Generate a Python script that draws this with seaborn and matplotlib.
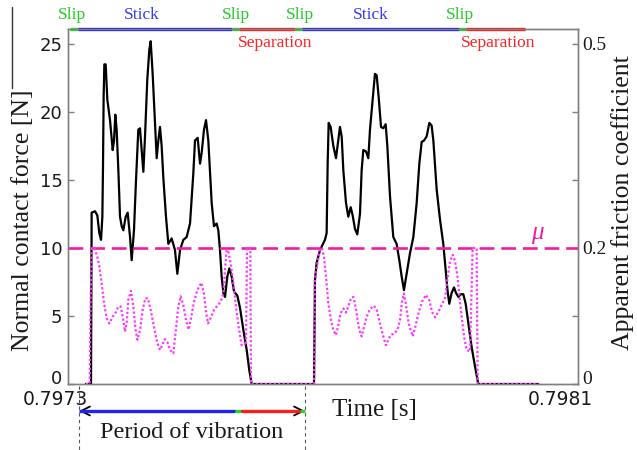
import matplotlib
matplotlib.use("Agg")
import matplotlib.pyplot as plt
from matplotlib.lines import Line2D
import pandas as pd
import seaborn as sns

# Time is stored in microseconds after t = 0.7973 s
force_t_us = [28.2, 36.1,
              37.1, 42.4, 46.0, 49.1, 51.8, 53.9, 54.9, 55.9, 57.0, 59.1,
              61.7, 65.9, 70.1, 72.2, 74.2, 76.3, 79.0, 81.6, 84.2, 86.8,
              90.5, 93.6, 97.3, 99.9, 103.5, 106.7, 110.3, 112.9, 115.6, 118.2,
              120.8, 124.4, 127.6, 129.7, 132.8, 136.5, 139.1, 141.7, 144.3, 146.9,
              149.5, 153.7, 157.4, 162.6, 167.8, 171.5, 175.7, 180.9, 186.1, 191.4,
              196.6, 199.2, 203.4, 207.1, 209.7, 213.3, 216.5, 220.1, 222.7, 225.4,
              229.0, 233.2, 235.8, 238.4, 241.0, 243.7, 246.3, 249.9, 253.1, 256.7,
              260.4, 265.6, 269.8, 275.0, 280.3, 284.4, 288.1,
              385.9, 387.4, 390.0, 395.3, 398.9, 403.1, 405.7, 407.3, 408.9, 412.0,
              416.2, 420.4, 424.0, 426.6, 429.3, 431.9, 436.1, 439.7, 443.4, 446.5,
              450.2, 453.8, 458.0, 460.6, 463.2, 467.4, 471.1, 473.7, 477.9, 481.5,
              484.2, 487.3, 491.0, 494.6, 498.3, 500.9, 505.1, 510.3, 515.5, 519.7,
              523.4, 527.0, 531.2, 536.4, 541.7, 546.9, 551.1, 554.8, 558.4, 562.6,
              566.8, 570.4, 573.1, 578.3, 583.5, 588.7, 592.9, 595.5, 598.1, 601.8,
              605.5, 608.6, 612.3, 615.9, 620.1, 623.8, 627.9, 633.2, 638.4, 643.6,
              737.5]
force_N = [0, 0,
           12.6, 12.7, 12.4, 11.1, 10.6, 12.3, 16.0, 21.1, 23.5, 23.5,
           20.9, 19.4, 17.2, 17.9, 19.8, 18.7, 15.7, 12.3, 11.6, 11.3,
           12.3, 12.6, 10.8, 9.1, 11.3, 15.0, 18.7, 18.8, 17.2, 15.6,
           18.2, 22.4, 24.6, 25.2, 22.8, 19.2, 16.6, 17.9, 18.9, 17.5,
           15.2, 12.3, 10.3, 10.7, 9.85, 8.1, 9.85, 10.6, 10.8, 11.8,
           15.5, 17.9, 18.1, 16.2, 17.0, 18.7, 19.4, 17.9, 15.7, 13.3,
           11.6, 11.8, 11.3, 9.85, 7.9, 6.7, 6.4, 7.9, 8.5, 7.9,
           6.8, 6.5, 5.6, 4.0, 2.5, 1.0, 0,
           0, 7.65, 8.9, 9.85, 10.2, 10.6, 11.1, 16.2, 19.2, 18.9,
           17.5, 16.6, 17.9, 18.9, 18.2, 15.7, 13.3, 12.3, 13.0, 12.4,
           11.4, 11.0, 12.5, 15.7, 17.2, 17.1, 16.6, 18.7, 20.9, 22.8,
           22.7, 21.1, 18.9, 18.8, 19.1, 17.5, 13.8, 10.8, 10.3, 9.1,
           7.9, 6.9, 8.1, 9.6, 10.8, 13.3, 16.2, 17.8, 17.9, 18.2,
           19.2, 19.0, 17.9, 14.3, 12.1, 10.3, 8.1, 6.8, 5.9, 6.7,
           7.1, 6.7, 6.4, 6.6, 6.6, 5.9, 4.5, 2.7, 1.3, 0,
           0]

mu_t_us = [28.2, 34.0, 35.6, 37.6, 41.3, 46.0, 49.1, 52.8, 56.5, 60.6,
           64.8, 70.1, 75.3, 79.0, 82.6, 85.8, 89.4, 92.0, 94.6, 98.8,
           102.5, 105.6, 108.8, 113.0, 117.1, 121.3, 125.5, 129.7, 134.9, 140.1,
           144.3, 148.0, 151.6, 155.8, 160.0, 165.2, 168.9, 173.1, 176.7, 180.9,
           185.1, 189.3, 193.5, 197.6, 202.9, 209.2, 213.3, 216.5, 219.6, 223.8,
           229.0, 234.2, 239.5, 243.7, 246.3, 248.9, 251.5, 255.2, 259.3, 263.5,
           267.7, 272.4, 276.1, 279.2, 280.8, 286.0, 287.1,
           385.9, 387.4, 391.1, 395.3, 398.4, 401.5, 404.7, 408.3, 412.5, 416.2,
           420.4, 424.0, 427.7, 431.9, 436.1, 439.7, 443.9, 447.6, 450.7, 453.8,
           457.0, 460.6, 464.3, 468.5, 473.7, 480.0, 484.2, 489.4, 494.6, 498.8,
           502.5, 506.1, 511.4, 516.6, 520.8, 523.9, 527.0, 530.2, 534.4, 540.6,
           544.8, 550.0, 555.3, 561.5, 566.8, 571.0, 575.7, 580.9, 586.1, 591.3,
           595.0, 599.2, 603.4, 607.0, 610.7, 613.8, 617.5, 621.2, 625.3, 630.6,
           634.7, 641.0, 642.6, 737.5]
mu_apparent = [0, 0, 0.128, 0.2, 0.2, 0.187, 0.173, 0.148, 0.119, 0.097,
               0.089, 0.099, 0.106, 0.114, 0.114, 0.099, 0.077, 0.089, 0.124, 0.137,
               0.114, 0.082, 0.065, 0.079, 0.109, 0.126, 0.126, 0.109, 0.084, 0.060,
               0.050, 0.057, 0.066, 0.062, 0.050, 0.045, 0.077, 0.114, 0.129, 0.116,
               0.094, 0.080, 0.099, 0.121, 0.138, 0.149, 0.133, 0.106, 0.089, 0.097,
               0.109, 0.115, 0.121, 0.133, 0.168, 0.197, 0.195, 0.177, 0.148, 0.114,
               0.084, 0.057, 0.060, 0.057, 0.2, 0.2, 0,
               0, 0.153, 0.177, 0.197, 0.2, 0.187, 0.158, 0.119, 0.094, 0.079,
               0.072, 0.087, 0.104, 0.111, 0.105, 0.114, 0.126, 0.128, 0.116, 0.097,
               0.079, 0.070, 0.084, 0.099, 0.110, 0.115, 0.109, 0.089, 0.070, 0.057,
               0.065, 0.072, 0.074, 0.079, 0.094, 0.121, 0.133, 0.116, 0.089, 0.070,
               0.084, 0.105, 0.121, 0.131, 0.123, 0.106, 0.098, 0.106, 0.116, 0.126,
               0.153, 0.180, 0.190, 0.181, 0.160, 0.131, 0.099, 0.070, 0.050, 0.048,
               0.2, 0.2, 0, 0]

mu_static = 0.2

time_ticks_us = [0, 800]
time_tick_labels = ["0.7973", "0.7981"]
force_ticks = [0, 5, 10, 15, 20, 25]
mu_ticks = [0, 0.1, 0.2, 0.3, 0.4, 0.5]
mu_tick_labels = ["0", "", "0.2", "", "", "0.5"]

# contact states along the top edge
phase_names = ["Slip", "Stick", "Slip", "Separation", "Slip", "Stick", "Slip", "Separation"]
phase_start_us = [3.1, 15.7, 257.3, 268.2, 356.1, 367.1, 613.3, 624.3]
phase_end_us = [15.7, 257.3, 268.2, 356.1, 367.1, 613.3, 624.3, 716.9]
phase_label_us = [6.3, 116.1, 263.5, 324.7, 363.9, 475.3, 614.9, 674.5]

# one vibration period, split by contact state
period_names = ["Stick", "Slip", "Separation", "Slip"]
period_start_us = [17.3, 262.0, 271.4, 363.9]
period_end_us = [262.0, 271.4, 363.9, 371.8]

line_colors = {"Slip": "#2bd62b", "Stick": "#2323ee", "Separation": "#ff1c1c"}
text_colors = {"Slip": "#22cc22", "Stick": "#3a3aee", "Separation": "#ff2424"}

SERIF = "Liberation Serif"
SANS = "DejaVu Sans"
PINK = "#f21ca3"
DOT = "#ff38ff"
GREY = "#808080"
INK = "#1a1a1a"

sns.set_theme(style="white")
plt.rcParams["font.family"] = [SERIF, "DejaVu Sans"]

force_df = pd.DataFrame({"t": force_t_us, "F": force_N})
mu_df = pd.DataFrame({"t": mu_t_us, "mu": mu_apparent})

fig = plt.figure(figsize=(6.37, 4.5), dpi=100)
ax = fig.add_axes([68 / 637, 1 - 384 / 450, 510 / 637, 355 / 450])
ax2 = ax.twinx()

F_TOP = 26.1
ax.set_xlim(0, 800)
ax.set_ylim(0, F_TOP)
ax2.set_ylim(0, F_TOP / 50)

sns.lineplot(data=force_df, x="t", y="F", ax=ax, color="black", lw=1.6,
             sort=False, estimator=None, zorder=3)
sns.lineplot(data=mu_df, x="t", y="mu", ax=ax2, color=DOT, lw=1.6,
             sort=False, estimator=None, linestyle=(0, (1, 1)), zorder=4)
ax2.axhline(mu_static, color=PINK, lw=1.9, dashes=(5.6, 2.6), zorder=2)

# axes frame and ticks
for a in (ax, ax2):
    for sp in a.spines.values():
        sp.set_color(GREY)
        sp.set_linewidth(1.0)
ax.set_xticks([])
ax.set_yticks(force_ticks)
ax.tick_params(axis="y", direction="in", length=4, width=1, color=GREY,
               labelsize=13, pad=4, left=True, labelcolor=INK)
for lab in ax.get_yticklabels():
    lab.set_family(SANS)
ax2.set_yticks(mu_ticks, labels=mu_tick_labels)
ax2.tick_params(axis="y", direction="in", length=4, width=1, color=GREY,
                labelsize=14, pad=3, right=True, labelcolor=INK)
# the zero labels sit on the bottom edge
ax.get_yaxis().get_major_ticks()[0].label1.set_va("baseline")
ax2.get_yaxis().get_major_ticks()[0].label2.set_va("baseline")

for tick, lbl, dx in zip(time_ticks_us, time_tick_labels, (-9.4, -13.0)):
    ax.annotate(lbl, xy=(tick, 0), xycoords=("data", "axes fraction"),
                xytext=(dx, -11.5), textcoords="offset points",
                ha="center", va="center", fontsize=13.5, family=SANS,
                color=INK, annotation_clip=False)

ax.set_ylabel("Normal contact force [N]", fontsize=18.5, family=SERIF,
              va="center", color=INK)
ax.yaxis.set_label_coords(-0.088, 0.46)
ax2.set_ylabel("Apparent friction coefficient", fontsize=18.5, family=SERIF,
               rotation=90, va="center", color=INK)
ax2.yaxis.set_label_coords(1.088, 0.51)
ax.set_xlabel("Time [s]", fontsize=18, family=SERIF, va="center", color=INK)
ax.xaxis.set_label_coords(0.6, -0.074)

# friction coefficient marker
ax.text(735.7, 11.1, "\u03bc", color=PINK, fontsize=18, style="italic",
        family=SERIF, ha="center", va="center")

# contact-state bar along the top edge
xt = ax.get_xaxis_transform()
for name, t0, t1, tl in zip(phase_names, phase_start_us, phase_end_us, phase_label_us):
    ax.plot([t0, t1], [1, 1], transform=xt, color=line_colors[name], lw=2.4,
            solid_capstyle="butt", clip_on=False, zorder=6)
    y_lab = 0.9606 if name == "Separation" else 1.039
    ax.text(tl, y_lab, name, transform=xt, color=text_colors[name],
            fontsize=12.5, family=SERIF, ha="center", va="center")

# period of vibration arrow
y_arr = -0.076
ax.annotate("", xy=(period_end_us[-1], y_arr), xytext=(period_start_us[0], y_arr),
            xycoords=xt, arrowprops=dict(arrowstyle="<->", color="black", lw=1.3,
                                         mutation_scale=16, shrinkA=0, shrinkB=0),
            annotation_clip=False)
for name, t0, t1 in zip(period_names, period_start_us, period_end_us):
    ax.plot([t0, t1], [y_arr, y_arr], transform=xt, color=line_colors[name], lw=2.4,
            solid_capstyle="butt", clip_on=False, zorder=6)
for tb in (period_start_us[0], period_end_us[-1]):
    ax.plot([tb, tb], [-0.006, -0.19], transform=xt, color="#555555", lw=0.8,
            linestyle=(0, (3, 3)), clip_on=False)
ax.text((period_start_us[0] + period_end_us[-1]) / 2, -0.137, "Period of vibration",
        transform=xt, fontsize=17.5, family=SERIF, ha="center", va="center",
        color=INK)

# frame edge on the left of the figure
fig.add_artist(Line2D([12 / 637, 12 / 637], [1 - 7 / 450, 1 - 88 / 450],
                      color="#333333", lw=1.0))

fig.savefig("out.png", dpi=100)
